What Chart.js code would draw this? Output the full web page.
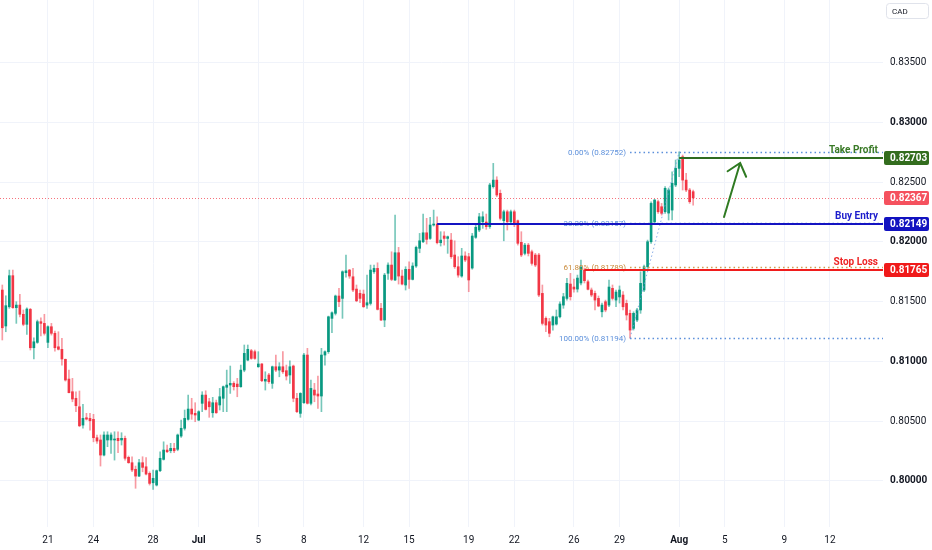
<!DOCTYPE html>
<html>
<head>
  <title>CAD 4h chart with trade levels</title>
  <style>
    body { margin: 0; background: #ffffff; }
    #wrap { position: relative; width: 932px; height: 550px; }
  </style>
  <script src="https://cdn.jsdelivr.net/npm/chart.js"></script>
</head>
<body>
  <div id="wrap"><canvas id="chart"></canvas></div>
  <script>
    // Candle values, one entry per bar (index 0 = first bar on the left)
    const openP = [
      0.81596, 0.81295, 0.81456, 0.81716, 0.81448, 0.81470, 0.81393, 0.81309, 0.81434, 0.81113,
      0.81158, 0.81331, 0.81317, 0.81158, 0.81289, 0.81234, 0.81121, 0.81100, 0.81016, 0.80851,
      0.80745, 0.80690, 0.80619, 0.80466, 0.80527, 0.80522, 0.80514, 0.80360, 0.80341, 0.80215,
      0.80341, 0.80341, 0.80341, 0.80355, 0.80341, 0.80355, 0.80196, 0.80151, 0.80096, 0.80039,
      0.80151, 0.80117, 0.80062, 0.79983, 0.79964, 0.80084, 0.80179, 0.80257, 0.80251, 0.80271,
      0.80263, 0.80374, 0.80439, 0.80514, 0.80600, 0.80564, 0.80508, 0.80648, 0.80717, 0.80661,
      0.80569, 0.80653, 0.80634, 0.80690, 0.80782, 0.80801, 0.80815, 0.80809, 0.80787, 0.80926,
      0.81010, 0.81088, 0.81080, 0.80954, 0.80977, 0.80834, 0.80885, 0.80815, 0.80954, 0.80926,
      0.80954, 0.80921, 0.80885, 0.80960, 0.80690, 0.80564, 0.80653, 0.81052, 0.80648, 0.80759,
      0.80726, 0.80709, 0.81052, 0.81080, 0.81359, 0.81401, 0.81546, 0.81526, 0.81741, 0.81763,
      0.81707, 0.81604, 0.81568, 0.81562, 0.81470, 0.81484, 0.81749, 0.81777, 0.81443, 0.81345,
      0.81736, 0.81805, 0.81680, 0.81908, 0.81713, 0.81638, 0.81769, 0.81685, 0.81797, 0.81945,
      0.82000, 0.82075, 0.82028, 0.82140, 0.82148, 0.81992, 0.82048, 0.82028, 0.82014, 0.81889,
      0.81791, 0.81713, 0.81881, 0.81875, 0.81780, 0.82037, 0.82098, 0.82167, 0.82165, 0.82126,
      0.82461, 0.82516, 0.82405, 0.82176, 0.82251, 0.82167, 0.82251, 0.82176, 0.81995, 0.81903,
      0.81972, 0.81916, 0.81889, 0.81889, 0.81568, 0.81359, 0.81331, 0.81303, 0.81311, 0.81372,
      0.81470, 0.81526, 0.81646, 0.81621, 0.81604, 0.81655, 0.81763, 0.81665, 0.81596, 0.81568,
      0.81526, 0.81414, 0.81498, 0.81470, 0.81610, 0.81512, 0.81538, 0.81554, 0.81484, 0.81401,
      0.81275, 0.81345, 0.81429, 0.81596, 0.81791, 0.82000, 0.82167, 0.82335, 0.82293, 0.82251,
      0.82240, 0.82265, 0.82475, 0.82614, 0.82711, 0.82516, 0.82433, 0.82419
    ];
    const highP = [
      0.81638, 0.81548, 0.81763, 0.81763, 0.81498, 0.81560, 0.81429, 0.81448, 0.81443, 0.81197,
      0.81345, 0.81364, 0.81393, 0.81297, 0.81317, 0.81253, 0.81247, 0.81192, 0.81019, 0.80926,
      0.80857, 0.80745, 0.80751, 0.80639, 0.80564, 0.80564, 0.80556, 0.80383, 0.80383, 0.80410,
      0.80410, 0.80402, 0.80410, 0.80410, 0.80402, 0.80374, 0.80207, 0.80201, 0.80123, 0.80179,
      0.80201, 0.80193, 0.80075, 0.80090, 0.80090, 0.80243, 0.80326, 0.80299, 0.80313, 0.80313,
      0.80391, 0.80508, 0.80592, 0.80717, 0.80690, 0.80653, 0.80586, 0.80745, 0.80753, 0.80690,
      0.80698, 0.80675, 0.80773, 0.80793, 0.80926, 0.80960, 0.80829, 0.80857, 0.80968, 0.81136,
      0.81136, 0.81100, 0.81094, 0.81080, 0.80982, 0.80912, 0.80899, 0.80960, 0.81052, 0.80988,
      0.81080, 0.80968, 0.81004, 0.80968, 0.80731, 0.80737, 0.81066, 0.81108, 0.80843, 0.80815,
      0.80876, 0.81108, 0.81088, 0.81378, 0.81414, 0.81554, 0.81610, 0.81757, 0.81889, 0.81769,
      0.81777, 0.81638, 0.81596, 0.81596, 0.81721, 0.81805, 0.81805, 0.81824, 0.81484, 0.81736,
      0.81824, 0.81916, 0.82223, 0.81953, 0.81763, 0.81791, 0.81833, 0.81824, 0.81964, 0.82070,
      0.82232, 0.82196, 0.82204, 0.82265, 0.82209, 0.82084, 0.82084, 0.82048, 0.82070, 0.82008,
      0.81875, 0.81945, 0.81916, 0.81903, 0.82070, 0.82138, 0.82238, 0.82251, 0.82232, 0.82489,
      0.82656, 0.82544, 0.82433, 0.82265, 0.82265, 0.82265, 0.82265, 0.82182, 0.82084, 0.81987,
      0.81987, 0.81931, 0.81903, 0.81903, 0.81638, 0.81372, 0.81359, 0.81378, 0.81429, 0.81498,
      0.81568, 0.81694, 0.81736, 0.81688, 0.81721, 0.81847, 0.81780, 0.81680, 0.81613, 0.81587,
      0.81546, 0.81487, 0.81512, 0.81680, 0.81638, 0.81596, 0.81630, 0.81582, 0.81512, 0.81429,
      0.81414, 0.81443, 0.81749, 0.81805, 0.82014, 0.82335, 0.82355, 0.82349, 0.82321, 0.82461,
      0.82450, 0.82586, 0.82684, 0.82752, 0.82726, 0.82572, 0.82447, 0.82433
    ];
    const lowP = [
      0.81178, 0.81247, 0.81443, 0.81443, 0.81317, 0.81372, 0.81297, 0.81225, 0.81094, 0.81019,
      0.81150, 0.81211, 0.81219, 0.81113, 0.81219, 0.81085, 0.81094, 0.80968, 0.80834, 0.80734,
      0.80661, 0.80578, 0.80452, 0.80439, 0.80508, 0.80424, 0.80326, 0.80313, 0.80123, 0.80207,
      0.80285, 0.80229, 0.80173, 0.80234, 0.80299, 0.80173, 0.80146, 0.80075, 0.79937, 0.80034,
      0.80075, 0.80048, 0.79964, 0.79928, 0.79956, 0.80075, 0.80173, 0.80234, 0.80234, 0.80234,
      0.80251, 0.80363, 0.80424, 0.80508, 0.80514, 0.80494, 0.80502, 0.80578, 0.80592, 0.80531,
      0.80531, 0.80564, 0.80592, 0.80578, 0.80578, 0.80731, 0.80759, 0.80703, 0.80782, 0.80912,
      0.81004, 0.81016, 0.81016, 0.80949, 0.80829, 0.80759, 0.80815, 0.80773, 0.80912, 0.80870,
      0.80899, 0.80843, 0.80815, 0.80661, 0.80569, 0.80531, 0.80648, 0.80642, 0.80634, 0.80661,
      0.80606, 0.80578, 0.80968, 0.81066, 0.81239, 0.81387, 0.81456, 0.81359, 0.81703, 0.81694,
      0.81582, 0.81498, 0.81490, 0.81451, 0.81443, 0.81470, 0.81736, 0.81429, 0.81339, 0.81289,
      0.81685, 0.81674, 0.81674, 0.81646, 0.81638, 0.81596, 0.81610, 0.81680, 0.81786, 0.81908,
      0.81992, 0.81981, 0.82020, 0.82131, 0.81981, 0.81964, 0.81972, 0.81903, 0.81861, 0.81777,
      0.81703, 0.81703, 0.81833, 0.81582, 0.81770, 0.82028, 0.82084, 0.82112, 0.82104, 0.82112,
      0.82449, 0.82377, 0.82182, 0.82008, 0.82098, 0.82154, 0.82126, 0.81972, 0.81875, 0.81889,
      0.81881, 0.81805, 0.81791, 0.81540, 0.81303, 0.81247, 0.81205, 0.81261, 0.81303, 0.81362,
      0.81443, 0.81512, 0.81512, 0.81579, 0.81579, 0.81638, 0.81655, 0.81596, 0.81540, 0.81429,
      0.81456, 0.81372, 0.81414, 0.81456, 0.81512, 0.81456, 0.81487, 0.81429, 0.81345, 0.81194,
      0.81261, 0.81331, 0.81401, 0.81582, 0.81777, 0.81987, 0.82154, 0.82238, 0.82223, 0.82238,
      0.82182, 0.82182, 0.82461, 0.82544, 0.82433, 0.82419, 0.82321, 0.82307
    ];
    const closeP = [
      0.81280, 0.81465, 0.81716, 0.81448, 0.81470, 0.81393, 0.81309, 0.81437, 0.81113, 0.81163,
      0.81331, 0.81317, 0.81234, 0.81289, 0.81234, 0.81113, 0.81100, 0.81019, 0.80843, 0.80737,
      0.80684, 0.80628, 0.80460, 0.80522, 0.80516, 0.80502, 0.80360, 0.80332, 0.80215, 0.80383,
      0.80383, 0.80383, 0.80349, 0.80335, 0.80355, 0.80188, 0.80151, 0.80090, 0.80039, 0.80151,
      0.80112, 0.80056, 0.79978, 0.80020, 0.80084, 0.80188, 0.80257, 0.80243, 0.80271, 0.80251,
      0.80383, 0.80439, 0.80522, 0.80600, 0.80558, 0.80550, 0.80578, 0.80717, 0.80597, 0.80619,
      0.80653, 0.80569, 0.80703, 0.80787, 0.80801, 0.80815, 0.80787, 0.80787, 0.80926, 0.81066,
      0.81100, 0.81024, 0.81024, 0.80977, 0.80837, 0.80849, 0.80829, 0.80954, 0.80926, 0.80954,
      0.80912, 0.80876, 0.80954, 0.80690, 0.80578, 0.80731, 0.81052, 0.80648, 0.80773, 0.80717,
      0.80709, 0.81052, 0.81080, 0.81372, 0.81406, 0.81546, 0.81498, 0.81749, 0.81757, 0.81713,
      0.81596, 0.81506, 0.81526, 0.81456, 0.81490, 0.81763, 0.81777, 0.81434, 0.81345, 0.81721,
      0.81805, 0.81685, 0.81908, 0.81713, 0.81646, 0.81769, 0.81685, 0.81797, 0.81953, 0.82008,
      0.82075, 0.82020, 0.82140, 0.82148, 0.81992, 0.82014, 0.82028, 0.82042, 0.81875, 0.81791,
      0.81721, 0.81881, 0.81847, 0.81680, 0.82048, 0.82121, 0.82209, 0.82209, 0.82126, 0.82475,
      0.82516, 0.82391, 0.82196, 0.82251, 0.82167, 0.82251, 0.82154, 0.81987, 0.81889, 0.81972,
      0.81903, 0.81819, 0.81805, 0.81554, 0.81317, 0.81303, 0.81234, 0.81372, 0.81372, 0.81479,
      0.81540, 0.81652, 0.81540, 0.81604, 0.81696, 0.81788, 0.81674, 0.81602, 0.81554, 0.81512,
      0.81462, 0.81470, 0.81429, 0.81621, 0.81526, 0.81579, 0.81596, 0.81456, 0.81387, 0.81261,
      0.81401, 0.81429, 0.81652, 0.81791, 0.82000, 0.82321, 0.82349, 0.82251, 0.82238, 0.82447,
      0.82433, 0.82489, 0.82614, 0.82684, 0.82516, 0.82433, 0.82335, 0.82367
    ];

    // Date labels on the time axis and the bar index they sit on
    const dateTickIdx = [13, 26, 43, 56, 73, 86, 103, 116, 133, 146, 163, 176, 193, 206, 223, 236];
    const dateTickText = ['21', '24', '28', 'Jul', '5', '8', '12', '15', '19', '22', '26', '29', 'Aug', '5', '9', '12'];
    const priceTicks = [0.800, 0.805, 0.810, 0.815, 0.820, 0.825, 0.830, 0.835];

    // Trade levels and the bar where each line starts
    const lastPrice = 0.82367;
    const takeProfit = 0.82703, takeProfitFrom = 193;
    const buyEntry = 0.82149, buyEntryFrom = 124;
    const stopLoss = 0.81765, stopLossFrom = 166;

    // Fibonacci retracement drawn from swing low bar to swing high bar
    const fibLowBar = 179, fibHighBar = 193;
    const fibNames = ['0.00%', '38.20%', '61.80%', '100.00%'];
    const fibPrices = [0.82752, 0.82157, 0.81789, 0.81194];

    // Hand-drawn arrow (bar, price)
    const arrowTail = [205.8, 0.82207];
    const arrowHead = [210.4, 0.82659];

    const UP = '#089981', DOWN = '#f23645';
    const bars = openP.map((o, i) => i);
    const isUp = bars.map(i => closeP[i] >= openP[i]);

    function hLine(ctx, x1, x2, y, color, width, dash) {
      ctx.save();
      ctx.strokeStyle = color;
      ctx.lineWidth = width;
      ctx.setLineDash(dash || []);
      ctx.beginPath();
      ctx.moveTo(x1, y);
      ctx.lineTo(x2, y);
      ctx.stroke();
      ctx.restore();
    }

    function priceBox(ctx, area, yPix, text, bg) {
      ctx.save();
      ctx.fillStyle = bg;
      ctx.beginPath();
      ctx.roundRect(area.right + 1, Math.round(yPix) - 7, 929 - area.right - 1, 14, 2);
      ctx.fill();
      ctx.fillStyle = '#ffffff';
      ctx.font = 'bold 10px Roboto';
      ctx.textBaseline = 'middle';
      ctx.textAlign = 'left';
      ctx.fillText(text, area.right + 7, Math.round(yPix) + 0.5);
      ctx.restore();
    }

    const overlay = {
      id: 'overlay',
      beforeDatasetsDraw(chart) {
        const { ctx, chartArea: a, scales: { y } } = chart;
        const yl = Math.round(y.getPixelForValue(lastPrice)) + 0.5;
        hLine(ctx, a.left, a.right, yl, 'rgba(242,54,69,0.7)', 1, [1, 2]);
      },
      afterDatasetsDraw(chart) {
        const { ctx, chartArea: a, scales: { x, y } } = chart;
        const fx = x.getPixelForValue(fibLowBar);

        // fib trend line
        ctx.save();
        ctx.strokeStyle = 'rgba(110,155,225,0.8)';
        ctx.lineWidth = 1;
        ctx.setLineDash([1.5, 2.5]);
        ctx.beginPath();
        ctx.moveTo(fx, y.getPixelForValue(fibPrices[3]));
        ctx.lineTo(x.getPixelForValue(fibHighBar), y.getPixelForValue(fibPrices[0]));
        ctx.stroke();
        ctx.restore();

        // fib levels and their labels
        fibPrices.forEach((p, k) => {
          const col = k === 2 ? '#d39a4e' : '#5b8fdb';
          const yp = Math.round(y.getPixelForValue(p)) + 0.5;
          hLine(ctx, fx, a.right, yp, col, 1.3, [1.5, 3]);
          ctx.save();
          ctx.fillStyle = k === 2 ? '#c98a3a' : '#5b8fdb';
          ctx.font = '8px Roboto';
          ctx.textAlign = 'right';
          ctx.textBaseline = 'middle';
          ctx.fillText(fibNames[k] + ' (' + p.toFixed(5) + ')', fx - 4, yp);
          ctx.restore();
        });

        // trade lines
        const lines = [
          [takeProfit, takeProfitFrom, '#2f6b1f', 'Take Profit', '#3a7a27'],
          [buyEntry, buyEntryFrom, '#1414c2', 'Buy Entry', '#1d1dcc'],
          [stopLoss, stopLossFrom, '#f01c1c', 'Stop Loss', '#ee2424']
        ];
        lines.forEach(([p, from, col, label, tcol]) => {
          const yp = Math.round(y.getPixelForValue(p));
          hLine(ctx, x.getPixelForValue(from), a.right, yp, col, 2);
          ctx.save();
          ctx.fillStyle = tcol;
          ctx.font = 'bold 10px Roboto';
          ctx.textAlign = 'right';
          ctx.textBaseline = 'alphabetic';
          ctx.fillText(label, a.right - 5, yp - 5);
          ctx.restore();
        });

        // arrow
        const x1 = x.getPixelForValue(arrowTail[0]), y1 = y.getPixelForValue(arrowTail[1]);
        const x2 = x.getPixelForValue(arrowHead[0]), y2 = y.getPixelForValue(arrowHead[1]);
        const ang = Math.atan2(y1 - y2, x1 - x2);
        ctx.save();
        ctx.strokeStyle = '#2f7a22';
        ctx.lineWidth = 2;
        ctx.lineCap = 'round';
        ctx.beginPath();
        ctx.moveTo(x1, y1);
        ctx.lineTo(x2, y2);
        ctx.moveTo(x2 + 15 * Math.cos(ang + 0.7), y2 + 15 * Math.sin(ang + 0.7));
        ctx.lineTo(x2, y2);
        ctx.lineTo(x2 + 15 * Math.cos(ang - 0.7), y2 + 15 * Math.sin(ang - 0.7));
        ctx.stroke();
        ctx.restore();
      },
      afterDraw(chart) {
        const { ctx, chartArea: a, scales: { y } } = chart;
        priceBox(ctx, a, y.getPixelForValue(takeProfit), takeProfit.toFixed(5), '#336d1e');
        priceBox(ctx, a, y.getPixelForValue(lastPrice), lastPrice.toFixed(5), '#f5515e');
        priceBox(ctx, a, y.getPixelForValue(buyEntry), buyEntry.toFixed(5), '#1212c0');
        priceBox(ctx, a, y.getPixelForValue(stopLoss), stopLoss.toFixed(5), '#f01a1a');

        // currency badge
        ctx.save();
        ctx.fillStyle = '#ffffff';
        ctx.strokeStyle = '#e0e3eb';
        ctx.lineWidth = 1;
        ctx.beginPath();
        ctx.roundRect(886.5, 3.5, 42, 15, 3);
        ctx.fill();
        ctx.stroke();
        ctx.fillStyle = '#131722';
        ctx.font = '8px Roboto';
        ctx.textBaseline = 'middle';
        ctx.fillText('CAD', 892, 11.5);
        ctx.restore();
      }
    };

    new Chart(document.getElementById('chart'), {
      type: 'bar',
      data: {
        datasets: [
          {
            label: 'wick',
            data: bars.map(i => ({ x: i, y: [lowP[i], highP[i]] })),
            backgroundColor: isUp.map(u => u ? 'rgba(8,153,129,0.55)' : 'rgba(242,54,69,0.5)'),
            barThickness: 1,
            grouped: false,
            order: 2
          },
          {
            label: 'body',
            data: bars.map(i => ({ x: i, y: [openP[i], closeP[i]] })),
            backgroundColor: isUp.map(u => u ? UP : DOWN),
            barThickness: 2,
            minBarLength: 1,
            grouped: false,
            order: 1
          }
        ]
      },
      options: {
        responsive: true,
        maintainAspectRatio: false,
        animation: false,
        layout: { padding: 0 },
        plugins: { legend: { display: false }, tooltip: { enabled: false } },
        scales: {
          x: {
            type: 'linear',
            min: -0.656,
            max: 251.13,
            offset: false,
            afterBuildTicks: s => { s.ticks = dateTickIdx.map(v => ({ value: v })); },
            afterFit: s => { s.height = 23; s.paddingLeft = 0; s.paddingRight = 0; },
            grid: { color: '#f0f3fa', drawTicks: false, offset: false },
            border: { display: false },
            ticks: {
              autoSkip: false,
              maxRotation: 0,
              padding: 7,
              color: '#131722',
              font: c => ({ family: 'Roboto', size: 10, weight: /[A-Za-z]/.test(dateTickText[c.index] || '') ? 'bold' : 'normal' }),
              callback: (v, i) => dateTickText[i]
            }
          },
          y: {
            type: 'linear',
            position: 'right',
            min: 0.79613,
            max: 0.84023,
            afterBuildTicks: s => { s.ticks = priceTicks.map(v => ({ value: v })); },
            afterFit: s => { s.width = 49; s.paddingTop = 0; s.paddingBottom = 0; },
            grid: { color: '#f0f3fa', drawTicks: false },
            border: { display: false },
            ticks: {
              padding: 7,
              color: '#131722',
              font: c => ({ family: 'Roboto', size: 10, weight: Math.round(priceTicks[c.index] * 1000) % 10 === 0 ? 'bold' : 'normal' }),
              callback: v => v.toFixed(5)
            }
          }
        }
      },
      plugins: [overlay]
    });
  </script>
</body>
</html>
